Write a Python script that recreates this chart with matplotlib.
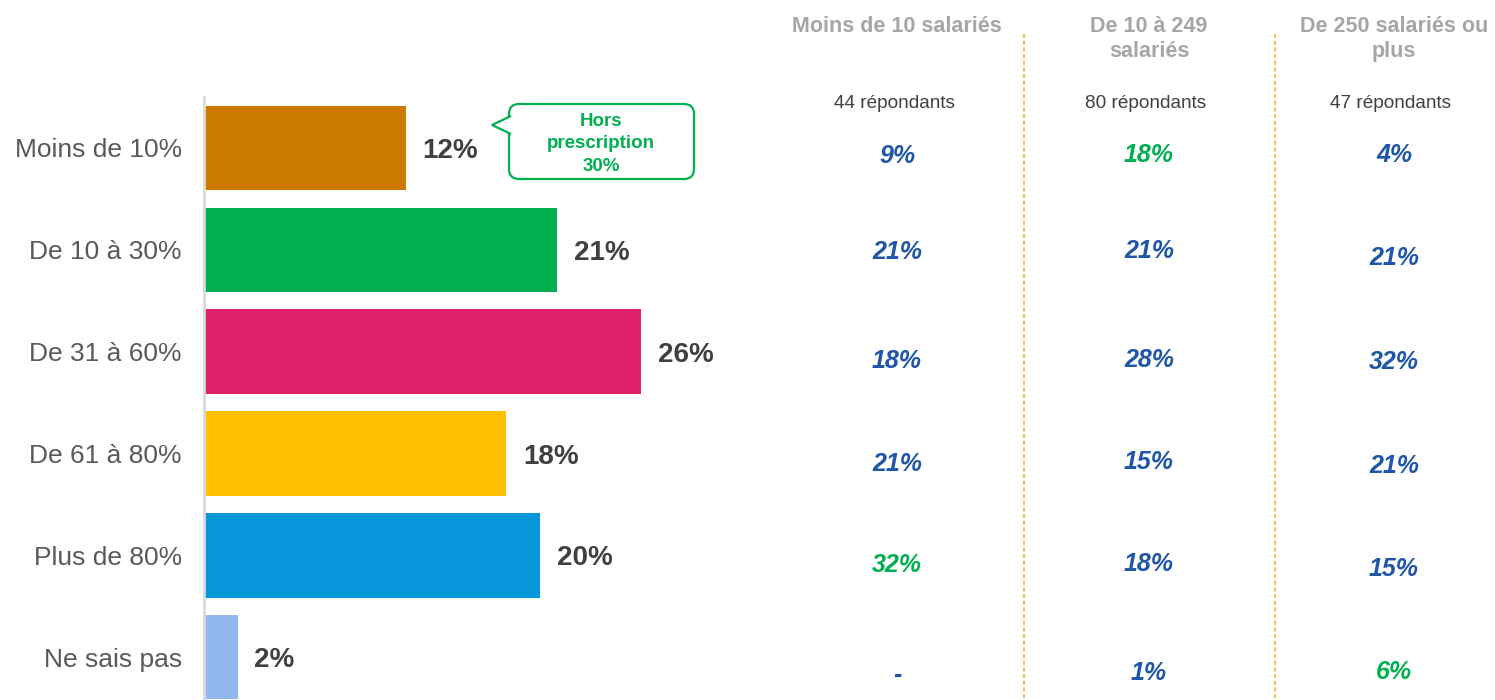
import numpy as np
import matplotlib
matplotlib.use("Agg")
from matplotlib import pyplot as plt
from matplotlib.patches import FancyBboxPatch, Polygon

plt.rcParams['font.family'] = ['Liberation Sans', 'DejaVu Sans']

categories = ["Moins de 10%", "De 10 à 30%", "De 31 à 60%", "De 61 à 80%", "Plus de 80%", "Ne sais pas"]
totals = [12, 21, 26, 18, 20, 2]
bar_colors = ["#CC7A00", "#00B050", "#E0226B", "#FFC000", "#0796D8", "#93B8F0"]

col_headers = ["Moins de 10 salariés", "De 10 à 249\nsalariés", "De 250 salariés ou\nplus"]
col_respondents = ["44 répondants", "80 répondants", "47 répondants"]
col_values = [
  ["9%", "21%", "18%", "21%", "32%", "-"],
  ["18%", "21%", "28%", "15%", "18%", "1%"],
  ["4%", "21%", "32%", "21%", "15%", "6%"],
]
col_highlight = [
  [0, 0, 0, 0, 1, 0],
  [1, 0, 0, 0, 0, 0],
  [0, 0, 0, 0, 0, 1],
]
callout_text = "Hors\nprescription\n30%"

W, H = 1495, 700
fig = plt.figure(figsize=(W / 100, H / 100), dpi=100)

# bar axes (pixel layout -> figure fractions)
left, right, top, bottom = 204, 720, 97, 700
ax = fig.add_axes([left / W, 1 - bottom / H, (right - left) / W, (bottom - top) / H])
y = np.arange(len(categories))
ax.barh(y, totals, height=0.83, color=bar_colors)
ax.set_xlim(0, (right - left) / 16.8)
ax.set_ylim(5.42, -0.5)
for s in ["top", "right", "bottom"]:
  ax.spines[s].set_visible(False)
ax.spines["left"].set_color("#D9D9D9")
ax.spines["left"].set_linewidth(2)
ax.set_xticks([])
ax.set_yticks(y)
ax.set_yticklabels(categories, fontsize=19, color="#595959")
ax.tick_params(axis="y", length=0, pad=16)
for yi, v in zip(y, totals):
  ax.text(v + 1.0, yi + 0.03, f"{v}%", va="center", ha="left", fontsize=20,
          fontweight="bold", color="#404040")

# overlay in pixel coordinates for the table part
ov = fig.add_axes([0, 0, 1, 1])
ov.set_xlim(0, W)
ov.set_ylim(H, 0)
ov.axis("off")
ov.patch.set_alpha(0)

green = "#00B050"
blue = "#1F56A8"

# callout bubble
box = FancyBboxPatch((509, 104), 185, 75, boxstyle="round,pad=0,rounding_size=10",
                     facecolor="white", edgecolor=green, linewidth=1.6, zorder=3)
ov.add_patch(box)
ov.add_patch(Polygon([(511, 116), (492, 125), (511, 134)], closed=False,
                     facecolor="white", edgecolor=green, linewidth=1.6, zorder=4))
ov.text(601, 144, callout_text, ha="center", va="center", fontsize=13.5,
        fontweight="bold", color=green, linespacing=1.42, zorder=5)

col_x = [897, 1149, 1394]
row_y = [
  [156, 252, 361, 464, 565, 675],
  [155, 251, 360, 462, 564, 673],
  [155, 258, 362, 466, 569, 672],
]
for c in range(3):
  ov.text(col_x[c], 16, col_headers[c], ha="center", va="top", fontsize=15.5,
          fontweight="bold", color="#A6A6A6", linespacing=1.22)
  ov.text(col_x[c] - 3, 103, col_respondents[c], ha="center", va="center",
          fontsize=13.7, color="#404040")
  for r, val in enumerate(col_values[c]):
    ov.text(col_x[c], row_y[c][r], val, ha="center", va="center", fontsize=18,
            fontweight="bold", fontstyle="italic",
            color=green if col_highlight[c][r] else blue)

for xs in [1024, 1275]:
  ov.plot([xs, xs], [34, 700], color="#F5B041", linewidth=1.2, linestyle=(0, (2.5, 1.5)))

fig.savefig("out.png", dpi=100)
